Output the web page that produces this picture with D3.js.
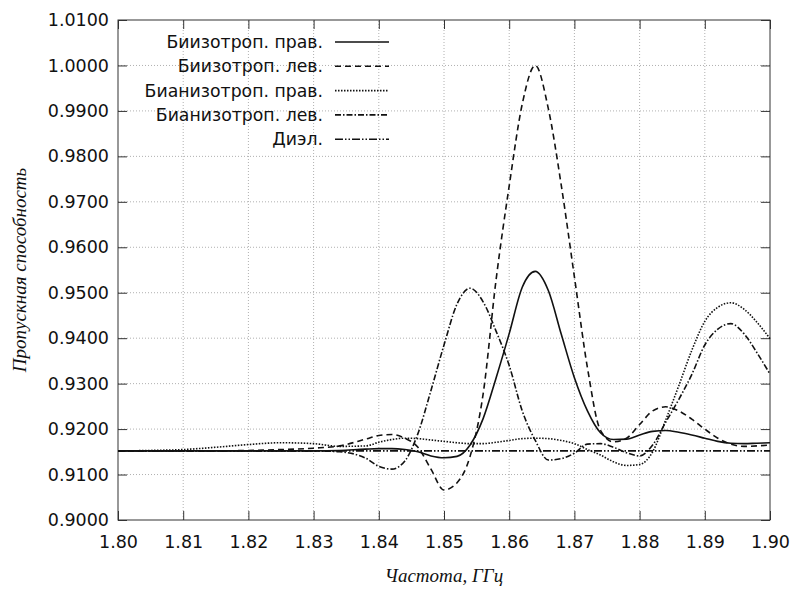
<!DOCTYPE html>
<html>
<head>
<meta charset="utf-8">
<script src="https://cdn.jsdelivr.net/npm/d3@7"></script>
<style>
  body { margin: 0; background: #fff; }
  svg { display: block; }
</style>
</head>
<body>
<svg id="chart"></svg>
<script>
var width = 792;
var height = 592;
var margin = { top: 20, right: 22, bottom: 72, left: 118 };

// частота, ГГц (общая сетка для всех кривых)
var freq = [1.800, 1.805, 1.810, 1.815, 1.820, 1.825, 1.830, 1.834, 1.838,
  1.840, 1.842, 1.844, 1.846, 1.848, 1.850, 1.852, 1.854, 1.856, 1.858,
  1.860, 1.862, 1.864, 1.866, 1.868, 1.870, 1.872, 1.874, 1.876, 1.878,
  1.880, 1.882, 1.884, 1.886, 1.888, 1.890, 1.892, 1.894, 1.896, 1.898, 1.900];

var biisoRight = [0.9152, 0.9152, 0.9152, 0.9152, 0.9152, 0.9152, 0.9152, 0.9153, 0.9156,
  0.9157, 0.9157, 0.9155, 0.9150, 0.9141, 0.9137, 0.9140, 0.9165, 0.9223, 0.9313,
  0.9410, 0.9512, 0.9547, 0.9505, 0.9408, 0.9313, 0.9240, 0.9192, 0.9177, 0.9178,
  0.9187, 0.9195, 0.9197, 0.9193, 0.9187, 0.9180, 0.9173, 0.9169, 0.9168, 0.9169, 0.9170];

var biisoLeft = [0.9152, 0.9152, 0.9152, 0.9152, 0.9153, 0.9155, 0.9158, 0.9163, 0.9178,
  0.9186, 0.9188, 0.9180, 0.9160, 0.9112, 0.9066, 0.9082, 0.9140, 0.9277, 0.9530,
  0.9735, 0.9915, 1.0000, 0.9905, 0.9735, 0.9535, 0.9335, 0.9197, 0.9172, 0.9180,
  0.9210, 0.9240, 0.9249, 0.9240, 0.9222, 0.9200, 0.9180, 0.9167, 0.9162, 0.9163, 0.9165];

var bianisoRight = [0.9152, 0.9153, 0.9155, 0.9160, 0.9166, 0.9170, 0.9168, 0.9162, 0.9163,
  0.9171, 0.9177, 0.9180, 0.9179, 0.9176, 0.9173, 0.9170, 0.9168, 0.9168, 0.9171,
  0.9175, 0.9179, 0.9180, 0.9179, 0.9175, 0.9168, 0.9155, 0.9143, 0.9128, 0.9120,
  0.9122, 0.9150, 0.9220, 0.9295, 0.9373, 0.9437, 0.9468, 0.9478, 0.9464, 0.9435, 0.9399];

var bianisoLeft = [0.9152, 0.9152, 0.9152, 0.9152, 0.9152, 0.9152, 0.9152, 0.9150, 0.9136,
  0.9118, 0.9112, 0.9130, 0.9190, 0.9285, 0.9385, 0.9475, 0.9510, 0.9480, 0.9415,
  0.9340, 0.9240, 0.9175, 0.9132, 0.9135, 0.9147, 0.9167, 0.9168, 0.9160, 0.9148,
  0.9141, 0.9165, 0.9215, 0.9265, 0.9320, 0.9385, 0.9420, 0.9432, 0.9410, 0.9368, 0.9321];

var dielFreq = [1.80, 1.90];
var dielValues = [0.9152, 0.9152];

var xTicks = [1.80, 1.81, 1.82, 1.83, 1.84, 1.85, 1.86, 1.87, 1.88, 1.89, 1.90];
var yTicks = [0.90, 0.91, 0.92, 0.93, 0.94, 0.95, 0.96, 0.97, 0.98, 0.99, 1.00, 1.01];

var seriesNames = ["Биизотроп. прав.", "Биизотроп. лев.", "Бианизотроп. прав.",
  "Бианизотроп. лев.", "Диэл."];

var series = [
  { name: seriesNames[0], x: freq, y: biisoRight, dash: null },
  { name: seriesNames[1], x: freq, y: biisoLeft, dash: "6,4" },
  { name: seriesNames[2], x: freq, y: bianisoRight, dash: "1.5,1.5" },
  { name: seriesNames[3], x: freq, y: bianisoLeft, dash: "6,2,1.5,2" },
  { name: seriesNames[4], x: dielFreq, y: dielValues, dash: "8,2,1.5,2,1.5,2" }
];

var svg = d3.select("#chart").attr("width", width).attr("height", height);

var x = d3.scaleLinear().domain([1.80, 1.90]).range([margin.left, width - margin.right]);
var y = d3.scaleLinear().domain([0.90, 1.01]).range([height - margin.bottom, margin.top]);

var x0 = x.range()[0], x1 = x.range()[1];
var y0 = y.range()[0], y1 = y.range()[1];

// сетка
svg.append("g")
  .selectAll("line")
  .data(xTicks.slice(1, -1))
  .enter()
  .append("line")
  .attr("x1", function (d) { return x(d); })
  .attr("x2", function (d) { return x(d); })
  .attr("y1", y0)
  .attr("y2", y1)
  .style("stroke", "#b0b0b0")
  .style("stroke-width", 1)
  .style("stroke-dasharray", "1,2");

svg.append("g")
  .selectAll("line")
  .data(yTicks.slice(1, -1))
  .enter()
  .append("line")
  .attr("x1", x0)
  .attr("x2", x1)
  .attr("y1", function (d) { return y(d); })
  .attr("y2", function (d) { return y(d); })
  .style("stroke", "#b0b0b0")
  .style("stroke-width", 1)
  .style("stroke-dasharray", "1,2");

// оси (тики внутрь со всех сторон)
var tickFont = "17.5px 'DejaVu Sans', Verdana, sans-serif";

var xAxis = svg.append("g")
  .attr("transform", "translate(0," + y0 + ")")
  .call(d3.axisBottom(x).tickValues(xTicks).tickFormat(d3.format(".2f")).tickSizeInner(-9).tickSizeOuter(0).tickPadding(16));
var xAxisTop = svg.append("g")
  .attr("transform", "translate(0," + y1 + ")")
  .call(d3.axisTop(x).tickValues(xTicks).tickFormat("").tickSizeInner(-9).tickSizeOuter(0));
var yAxis = svg.append("g")
  .attr("transform", "translate(" + x0 + ",0)")
  .call(d3.axisLeft(y).tickValues(yTicks).tickFormat(d3.format(".4f")).tickSizeInner(-9).tickSizeOuter(0).tickPadding(9));
var yAxisRight = svg.append("g")
  .attr("transform", "translate(" + x1 + ",0)")
  .call(d3.axisRight(y).tickValues(yTicks).tickFormat("").tickSizeInner(-9).tickSizeOuter(0));

[xAxis, xAxisTop, yAxis, yAxisRight].forEach(function (g) {
  g.select(".domain").remove();
  g.selectAll(".tick line").style("stroke", "#333");
  g.selectAll("text").style("font", tickFont).style("fill", "#111");
});

svg.append("rect")
  .attr("x", x0)
  .attr("y", y1)
  .attr("width", x1 - x0)
  .attr("height", y0 - y1)
  .style("fill", "none")
  .style("stroke", "#333")
  .style("stroke-width", 1);

// кривые
var line = d3.line()
  .x(function (d) { return x(d[0]); })
  .y(function (d) { return y(d[1]); })
  .curve(d3.curveMonotoneX);

var plot = svg.append("g");

series.forEach(function (s) {
  var pts = s.x.map(function (f, i) { return [f, s.y[i]]; });
  plot.append("path")
    .datum(pts)
    .attr("d", line)
    .style("fill", "none")
    .style("stroke", "#111")
    .style("stroke-width", 1.6)
    .style("stroke-dasharray", s.dash);
});

// легенда
var legend = svg.append("g");
series.forEach(function (s, i) {
  var ly = 42 + i * 24.3;
  legend.append("text")
    .attr("x", 323)
    .attr("y", ly)
    .attr("dy", "0.35em")
    .attr("text-anchor", "end")
    .style("font", "17.3px 'DejaVu Sans', Verdana, sans-serif")
    .style("fill", "#111")
    .text(s.name);
  legend.append("line")
    .attr("x1", 335)
    .attr("x2", 389)
    .attr("y1", ly)
    .attr("y2", ly)
    .style("stroke", "#111")
    .style("stroke-width", 1.6)
    .style("stroke-dasharray", s.dash);
});

// подписи осей
svg.append("text")
  .attr("x", (x0 + x1) / 2)
  .attr("y", 582)
  .attr("text-anchor", "middle")
  .style("font", "italic 19px 'Liberation Serif', 'Times New Roman', serif")
  .style("fill", "#111")
  .text("Частота, ГГц");

svg.append("text")
  .attr("transform", "translate(26," + (y0 + y1) / 2 + ")rotate(-90)")
  .attr("text-anchor", "middle")
  .style("font", "italic 19px 'Liberation Serif', 'Times New Roman', serif")
  .style("fill", "#111")
  .text("Пропускная способность");
</script>
</body>
</html>
